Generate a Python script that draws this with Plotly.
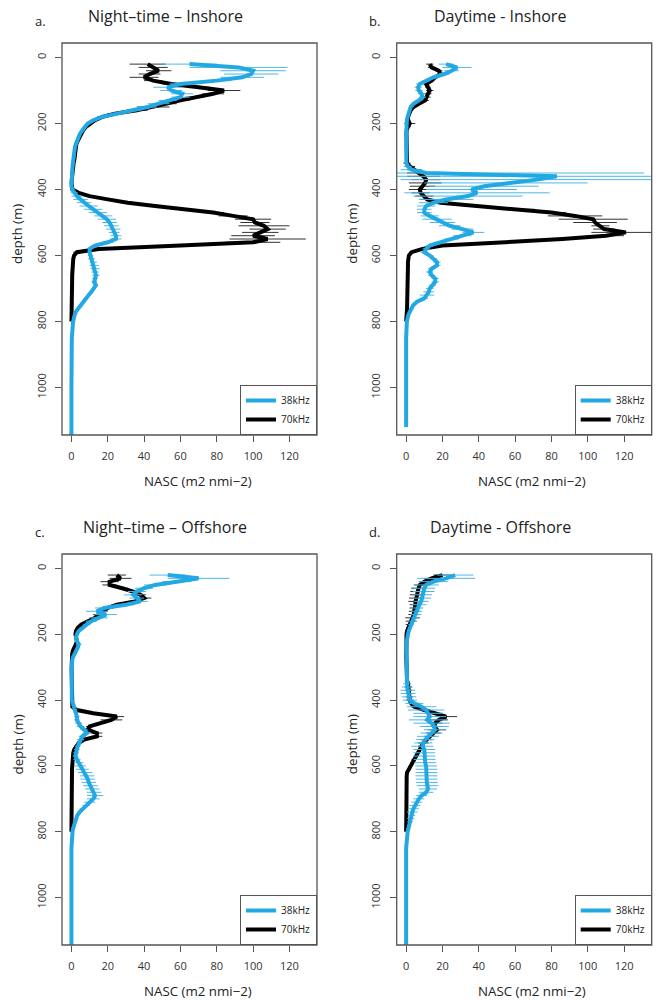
import plotly.graph_objects as go

# ---------------- data ----------------
# depth bins (m)
DEPTH_70 = list(range(20, 810, 10))                      # 20 .. 800
DEPTH_38 = DEPTH_70 + [850, 900, 950, 1000, 1050, 1100, 1150]
DEPTH_38_B = DEPTH_70 + [850, 900, 950, 1000, 1050, 1100, 1120]

X_TICKS = [0, 20, 40, 60, 80, 100, 120]
Y_TICKS = [0, 200, 400, 600, 800, 1000]

TITLES = ["Night\u2013time \u2013 Inshore", "Daytime - Inshore",
          "Night\u2013time \u2013 Offshore", "Daytime - Offshore"]
LETTERS = ["a.", "b.", "c.", "d."]
SERIES_NAMES = ["38kHz", "70kHz"]

# a. Night-time Inshore
A70 = [42, 45, 48, 43, 40, 45, 55, 70, 84, 78,
       68, 60, 52, 45, 36, 24, 17, 13, 10, 8,
       6.5, 5.5, 4.5, 3.5, 2.8, 2.5, 2.4, 2.3, 2.0, 1.6,
       1.2, 0.9, 0.6, 0.4, 0.3, 0.2, 0.1, 0.1, 0.5, 4,
       10, 20, 31, 46, 62, 78, 89, 100, 101, 106,
       108, 104, 100, 108, 100, 60, 15, 3, 1.5, 1,
       0.8, 0.6, 0.5, 0.5, 0.4, 0.4, 0.4, 0.3, 0.3, 0.3,
       0.3, 0.2, 0.2, 0.2, 0.1, 0.1, 0.1, 0.1, 0]
A70_ERR = [10, 8, 7, 6, 8, 5, 5, 6, 9, 6,
           5, 5, 6, 9, 6, 4, 3, 2, 1.5, 1,
           1, 0.8, 0.5, 0.5, 0.5, 0.5, 0.5, 0.5, 0.5, 0.5,
           0.5, 0.5, 0.5, 0.5, 0.5, 0.5, 0.5, 0.5, 0.5, 1,
           2, 3, 4, 4, 5, 6, 8, 10, 8, 14,
           10, 10, 12, 21, 15, 10, 6, 2, 1, 0.5,
           0.5, 0.5, 0.5, 0.5, 0.5, 0.5, 0.5, 0.5, 0.5, 0.5,
           0.5, 0.5, 0.5, 0.5, 0.5, 0.5, 0.5, 0.5, 0]
A38 = [65, 92, 100, 99, 94, 80, 60, 53, 55, 61,
       60, 53, 48, 42, 34, 25, 17, 12, 9, 7.5,
       6, 4.8, 4, 3.2, 2.4, 2, 1.7, 1.4, 1.2, 1,
       0.8, 0.6, 0.5, 0.4, 0.3, 0.2, 0.1, 0, 0.5, 1.5,
       3, 5, 7, 9.5, 12, 14.5, 17.5, 19.5, 21, 22,
       23, 23.5, 24.5, 24.5, 20, 13, 10, 10, 10.5, 11,
       12, 12.5, 13, 13, 13.5, 13, 12.5, 13.5, 12.5, 11,
       9.5, 8, 6.5, 5, 3.5, 2.5, 1.8, 1.2, 0.9,
       0.2, 0, 0, 0, 0, 0, 0]
A38_ERR = [15, 27, 18, 15, 12, 8, 6, 8, 6, 6,
           5, 5, 6, 5, 4, 3, 2, 1.5, 1, 1,
           0.8, 0.5, 0.5, 0.5, 0.5, 0.5, 0.5, 0.5, 0.5, 0.5,
           0.5, 0.5, 0.5, 0.5, 0.5, 0.5, 0.5, 0.5, 1, 2,
           3, 4, 4, 5, 5, 5, 5, 5, 4, 4,
           4, 3, 3, 3, 3, 2, 1, 1, 1.5, 2,
           2, 2.5, 2.5, 2, 2, 1.5, 1.5, 1, 1, 1,
           1, 1, 0.8, 0.8, 0.5, 0.5, 0.5, 0.5, 0.5,
           0, 0, 0, 0, 0, 0, 0]

# b. Daytime Inshore
B70 = [13, 14, 18, 19, 16, 14, 11, 12, 13, 12,
       11.5, 10.5, 7, 4, 2.5, 1.5, 1, 1, 2, 1,
       0.3, 0.2, 0.2, 0.2, 0.2, 0.2, 0.2, 0.2, 0.2, 0.2,
       0.5, 2, 4.5, 6.5, 9.5, 11, 10.5, 9, 7.5, 8,
       10, 11.5, 19, 40, 65, 80, 93, 103, 104, 107,
       109, 121, 110, 86, 50, 20, 9, 3, 1.5, 1,
       1, 1, 1, 1, 1, 1, 1, 1, 0.9, 0.9,
       0.8, 0.8, 0.7, 0.6, 0.5, 0.4, 0.3, 0.2, 0]
B70_ERR = [2, 2, 2, 2, 2, 1.5, 1.5, 1.5, 2, 2,
           2, 2, 1.5, 1, 1, 1, 1, 1.5, 3, 1.5,
           0.5, 0.5, 0.5, 0.5, 0.5, 0.5, 0.5, 0.5, 0.5, 0.5,
           2, 3, 4, 6, 9, 8, 9, 7, 6, 5,
           5, 4, 4, 5, 6, 8, 15, 19, 12, 5,
           6, 19, 10, 6, 4, 3, 2, 1, 0.5, 0.5,
           0.5, 0.5, 0.5, 0.5, 0.5, 0.5, 0.5, 0.5, 0.5, 0.5,
           0.5, 0.5, 0.5, 0.5, 0.5, 0.5, 0.5, 0.5, 0]
B38 = [22, 28, 25, 21, 15, 11, 7.5, 6.6, 7, 8.5,
       9, 7, 4, 2.5, 1.8, 1.2, 0.8, 0.4, 0.2, 0.1,
       0.1, 0.1, 0.1, 0.1, 0.1, 0.1, 0.1, 0.1, 0.1, 0.1,
       0.1, 1, 3, 11, 83, 72, 55, 43, 36, 39,
       34, 22, 15, 11, 10, 10, 13, 17, 20, 24,
       31, 37, 31, 25, 18, 13, 11, 10, 13, 15,
       17, 17, 14, 13, 14, 16, 16, 14.5, 13, 12.5,
       11.5, 10, 6, 4, 3, 2, 1.2, 0.8, 0.4,
       0, 0, 0, 0, 0, 0, 0]
B38_ERR = [4, 8, 4, 3, 2, 2, 2, 2, 2, 2,
           2, 2, 1, 1, 1, 0.5, 0.5, 0.5, 0.5, 0.5,
           0.5, 0.5, 0.5, 0.5, 0.5, 0.5, 0.5, 0.5, 0.5, 0.5,
           0.5, 2, 6, 120, 90, 75, 45, 30, 25, 40,
           30, 15, 8, 5, 4, 4, 5, 8, 7, 6,
           6, 6, 5, 4, 3, 2, 2, 2, 2, 2,
           2, 2, 2, 2, 2, 2, 2, 2, 2, 3,
           4, 2, 1, 1, 0.5, 0.5, 0.5, 0.5, 0.5,
           0, 0, 0, 0, 0, 0, 0]

# c. Night-time Offshore
C70 = [25, 27, 21, 21, 28, 34, 38, 40, 35, 25,
       20, 17, 15, 13, 9.5, 5.5, 3.5, 2.5, 2.2, 2.5,
       3, 2.5, 1.5, 0.8, 0.4, 0.2, 0.2, 0.2, 0.1, 0.1,
       0.1, 0.1, 0.1, 0.1, 0.1, 0.1, 0.1, 0.1, 0.1, 0.3,
       0.5, 3, 12, 25, 22, 16, 10, 9, 14, 14,
       7, 4, 2.5, 1.5, 1, 0.8, 0.5, 0.3, 0.3, 0.3,
       0.3, 0.3, 0.3, 0.3, 0.3, 0.3, 0.3, 0.3, 0.3, 0.3,
       0.3, 0.3, 0.2, 0.2, 0.2, 0.1, 0.1, 0.1, 0]
C70_ERR = [5, 6, 5, 4, 3, 3, 3, 4, 4, 3,
           3, 3, 3, 3, 2, 1, 1, 0.5, 0.5, 0.5,
           0.5, 0.5, 0.5, 0.5, 0.5, 0.5, 0.5, 0.5, 0.5, 0.5,
           0.3, 0.3, 0.3, 0.3, 0.3, 0.3, 0.3, 0.3, 0.3, 0.3,
           0.5, 1, 3, 4, 6, 3, 2, 2, 3, 3,
           2, 1, 1, 0.5, 0.5, 0.3, 0.3, 0.3, 0.3, 0.3,
           0.3, 0.3, 0.3, 0.3, 0.3, 0.3, 0.3, 0.3, 0.3, 0.3,
           0.3, 0.3, 0.3, 0.3, 0.3, 0.3, 0.3, 0.3, 0]
C38 = [53, 70, 58, 46, 40, 36, 34, 36, 38, 30,
       18, 14, 19, 15, 11, 8.5, 6, 4, 3, 2.5,
       3, 4, 3.5, 2.5, 1.5, 0.8, 0.4, 0.2, 0.2, 0.2,
       0.2, 0.2, 0.2, 0.2, 0.2, 0.2, 0.2, 0.2, 0.2, 0.8,
       1.5, 2, 2.5, 3, 3, 4, 5, 7, 8.5, 6,
       5, 4, 3.5, 3, 2.5, 2.2, 3, 4, 5, 6,
       7.5, 8.6, 9, 9.5, 10.5, 11.5, 12.5, 13, 12, 10,
       8, 6, 4.5, 3.2, 2.5, 1.8, 1.3, 0.9, 0.6,
       0, 0, 0, 0, 0, 0, 0]
C38_ERR = [10, 17, 8, 6, 5, 5, 5, 4, 4, 5,
           5, 6, 6, 5, 3, 2, 1.5, 1, 1, 1,
           1, 1.5, 1, 0.5, 0.5, 0.5, 0.5, 0.5, 0.5, 0.5,
           0.3, 0.3, 0.3, 0.3, 0.3, 0.3, 0.3, 0.3, 0.3, 0.3,
           1, 1, 1, 1.5, 1.5, 2, 2, 2, 2.5, 2,
           2, 1.5, 1.5, 1.5, 1.5, 1.5, 2, 2.5, 3, 3.5,
           4, 4, 4, 4, 4, 4, 4, 4.5, 3.5, 3,
           2, 1.5, 1, 0.8, 0.5, 0.5, 0.5, 0.3, 0.3,
           0, 0, 0, 0, 0, 0, 0]

# d. Daytime Offshore
D70 = [20, 14, 10, 7.5, 6.8, 6.3, 6, 5.6, 5.2, 5,
       4.8, 4.5, 4.2, 3.5, 2.8, 1.8, 1, 0.5, 0.2, 0.1,
       0.1, 0.1, 0.1, 0.1, 0.1, 0.1, 0.1, 0.1, 0.1, 0.1,
       0.1, 0.1, 0.5, 1, 1.2, 1.3, 1.5, 1.8, 2, 2.8,
       4.5, 10, 16, 22, 18, 16, 15.5, 17, 15, 13,
       11, 9.5, 8.5, 7.5, 6.5, 5.5, 4, 3, 2, 1.1,
       0.5, 0.3, 0.2, 0.2, 0.2, 0.2, 0.2, 0.2, 0.2, 0.2,
       0.2, 0.2, 0.1, 0.1, 0.1, 0.1, 0.1, 0.1, 0]
D70_ERR = [5, 4, 3, 3, 4, 4, 4, 4, 4, 3,
           3, 3, 3, 4, 3, 2, 1, 0.5, 0.3, 0.3,
           0.3, 0.3, 0.3, 0.3, 0.3, 0.3, 0.3, 0.3, 0.3, 0.3,
           0.3, 0.5, 1, 1.5, 2, 2, 2, 2, 2, 2,
           2, 3, 4, 6, 5, 4, 5, 5, 4, 3,
           3, 3, 2, 2, 1, 1, 1, 0.5, 0.5, 0.3,
           0.3, 0.3, 0.3, 0.3, 0.3, 0.3, 0.3, 0.3, 0.3, 0.3,
           0.3, 0.3, 0.3, 0.3, 0.3, 0.3, 0.3, 0.3, 0]
D38 = [27, 22, 15, 11, 10, 9.6, 9.2, 8.8, 8.3, 7.2,
       6.4, 6, 5.4, 4.5, 3.6, 2.7, 1.9, 1.4, 1, 0.6,
       0.3, 0.1, 0.1, 0.1, 0.1, 0.1, 0.1, 0.1, 0.1, 0.1,
       0.1, 0.1, 0.1, 0.4, 0.6, 0.9, 1.2, 1.6, 2, 4.5,
       8.5, 11, 12, 13, 11.5, 14, 15.5, 15.8, 14, 12,
       10.5, 9.5, 9, 10, 10, 10, 10.2, 10.5, 11, 11.2,
       11.2, 11.2, 11.3, 11.4, 11.8, 12, 11, 8.5, 7, 5.8,
       4.8, 4, 3.4, 3, 2.6, 2.1, 1.6, 1.2, 0.8,
       0, 0, 0, 0, 0, 0, 0]
D38_ERR = [10, 16, 8, 7, 6, 6, 5, 5, 4, 4,
           3, 3, 3, 2, 2, 1.5, 1, 1, 0.5, 0.5,
           0.3, 0.3, 0.3, 0.3, 0.3, 0.3, 0.3, 0.3, 0.3, 0.3,
           0.3, 0.5, 1, 2, 3, 4, 4, 4, 4, 5,
           8, 10, 8, 9, 10, 10, 8, 6, 6, 6,
           5, 5, 6, 6, 6, 6, 6, 6, 6, 6,
           6, 6, 6, 6, 6, 5, 4, 3, 3, 3,
           3, 3, 3, 2, 2, 1.5, 1, 1, 0.5,
           0, 0, 0, 0, 0, 0, 0]

# ---------------- styling ----------------
W, H = 660, 1000
BLUE = "#22A8E2"
BLUE_ERR = "#4CB8E8"
BLACK = "#000000"
BLACK_ERR = "#333333"
FRAME = "#555555"
FONT = "Open Sans"


def px(x):
    return x / W


def py(y):
    return 1 - y / H


# panel boxes in pixels: (left, top, right, bottom)
BOXES = [(62, 43, 317, 435), (396.7, 43, 651.7, 435),
         (62, 554, 317, 945), (396.7, 554, 651.7, 945)]

PANEL_DATA = [
    (DEPTH_38, A38, A38_ERR, A70, A70_ERR),
    (DEPTH_38_B, B38, B38_ERR, B70, B70_ERR),
    (DEPTH_38, C38, C38_ERR, C70, C70_ERR),
    (DEPTH_38, D38, D38_ERR, D70, D70_ERR),
]

fig = go.Figure()
layout = dict(
    width=W, height=H, margin=dict(l=0, r=0, t=0, b=0),
    paper_bgcolor="white", plot_bgcolor="white",
    font=dict(family=FONT, color="#222"),
    showlegend=True,
)
shapes = []
annotations = []

for i, ((d38, v38, e38, v70, e70), box) in enumerate(zip(PANEL_DATA, BOXES)):
    n = i + 1
    xa = "x" if n == 1 else f"x{n}"
    ya = "y" if n == 1 else f"y{n}"
    lg = "legend" if n == 1 else f"legend{n}"
    l, t, r, b = box

    fig.add_trace(go.Scatter(
        x=v70, y=DEPTH_70, mode="lines", name=SERIES_NAMES[1],
        line=dict(color=BLACK, width=4),
        error_x=dict(type="data", array=e70, color=BLACK_ERR, thickness=1, width=0),
        xaxis=xa, yaxis=ya, legend=lg, legendrank=2, hoverinfo="skip"))
    fig.add_trace(go.Scatter(
        x=v38, y=d38, mode="lines", name=SERIES_NAMES[0],
        line=dict(color=BLUE, width=4),
        error_x=dict(type="data", array=e38, color=BLUE_ERR, thickness=1, width=0),
        xaxis=xa, yaxis=ya, legend=lg, legendrank=1, hoverinfo="skip"))

    xkey = "xaxis" if n == 1 else f"xaxis{n}"
    ykey = "yaxis" if n == 1 else f"yaxis{n}"
    layout[xkey] = dict(
        domain=[px(l), px(r)], anchor=ya, range=[-5.2, 135.2],
        tickmode="array", tickvals=X_TICKS, ticks="outside", ticklen=6,
        tickwidth=1, tickcolor=FRAME, showline=False, showgrid=False,
        zeroline=False, tickfont=dict(size=11, color="#333", family=FONT),
        ticklabelstandoff=5, fixedrange=True)
    layout[ykey] = dict(
        domain=[py(b), py(t)], anchor=xa, range=[1144, -44],
        tickmode="array", tickvals=Y_TICKS, ticks="outside", ticklen=6,
        tickwidth=1, tickcolor=FRAME, showline=False, showgrid=False,
        zeroline=False, tickangle=-90,
        tickfont=dict(size=11, color="#333", family=FONT),
        ticklabelstandoff=5, fixedrange=True)
    layout[lg] = dict(
        x=px(r), y=py(b), xanchor="right", yanchor="bottom",
        bgcolor="white", bordercolor=FRAME, borderwidth=1,
        font=dict(size=10, color="#222", family=FONT),
        tracegroupgap=0, itemwidth=30)

    shapes.append(dict(type="rect", xref=f"{xa} domain", yref=f"{ya} domain",
                       x0=0, x1=1, y0=0, y1=1,
                       line=dict(color=FRAME, width=1.3), layer="above"))

    cx = (l + r) / 2
    # panel title
    annotations.append(dict(text=TITLES[i], xref="paper", yref="paper",
                            x=px(cx - 24), y=py(t - 27), xanchor="center",
                            yanchor="middle", showarrow=False,
                            font=dict(size=16, color="#222", family=FONT)))
    annotations.append(dict(text=LETTERS[i], xref="paper", yref="paper",
                            x=px(l - 22), y=py(t - 22), xanchor="center",
                            yanchor="middle", showarrow=False,
                            font=dict(size=13, color="#222", family=FONT)))
    # axis titles
    annotations.append(dict(text="NASC (m2 nmi\u22122)", xref="paper", yref="paper",
                            x=px(cx + 8), y=py(b + 46), xanchor="center",
                            yanchor="middle", showarrow=False,
                            font=dict(size=13.3, color="#222", family=FONT)))
    annotations.append(dict(text="depth (m)", xref="paper", yref="paper",
                            x=px(l - 45), y=py((t + b) / 2 - 5), xanchor="center",
                            yanchor="middle", showarrow=False, textangle=-90,
                            font=dict(size=13.3, color="#222", family=FONT)))

layout["shapes"] = shapes
layout["annotations"] = annotations
fig.update_layout(**layout)

fig.write_html(
    "out.html",
    config={"displayModeBar": False},
    post_script="document.body.style.margin='0';document.body.style.overflow='hidden';",
)
